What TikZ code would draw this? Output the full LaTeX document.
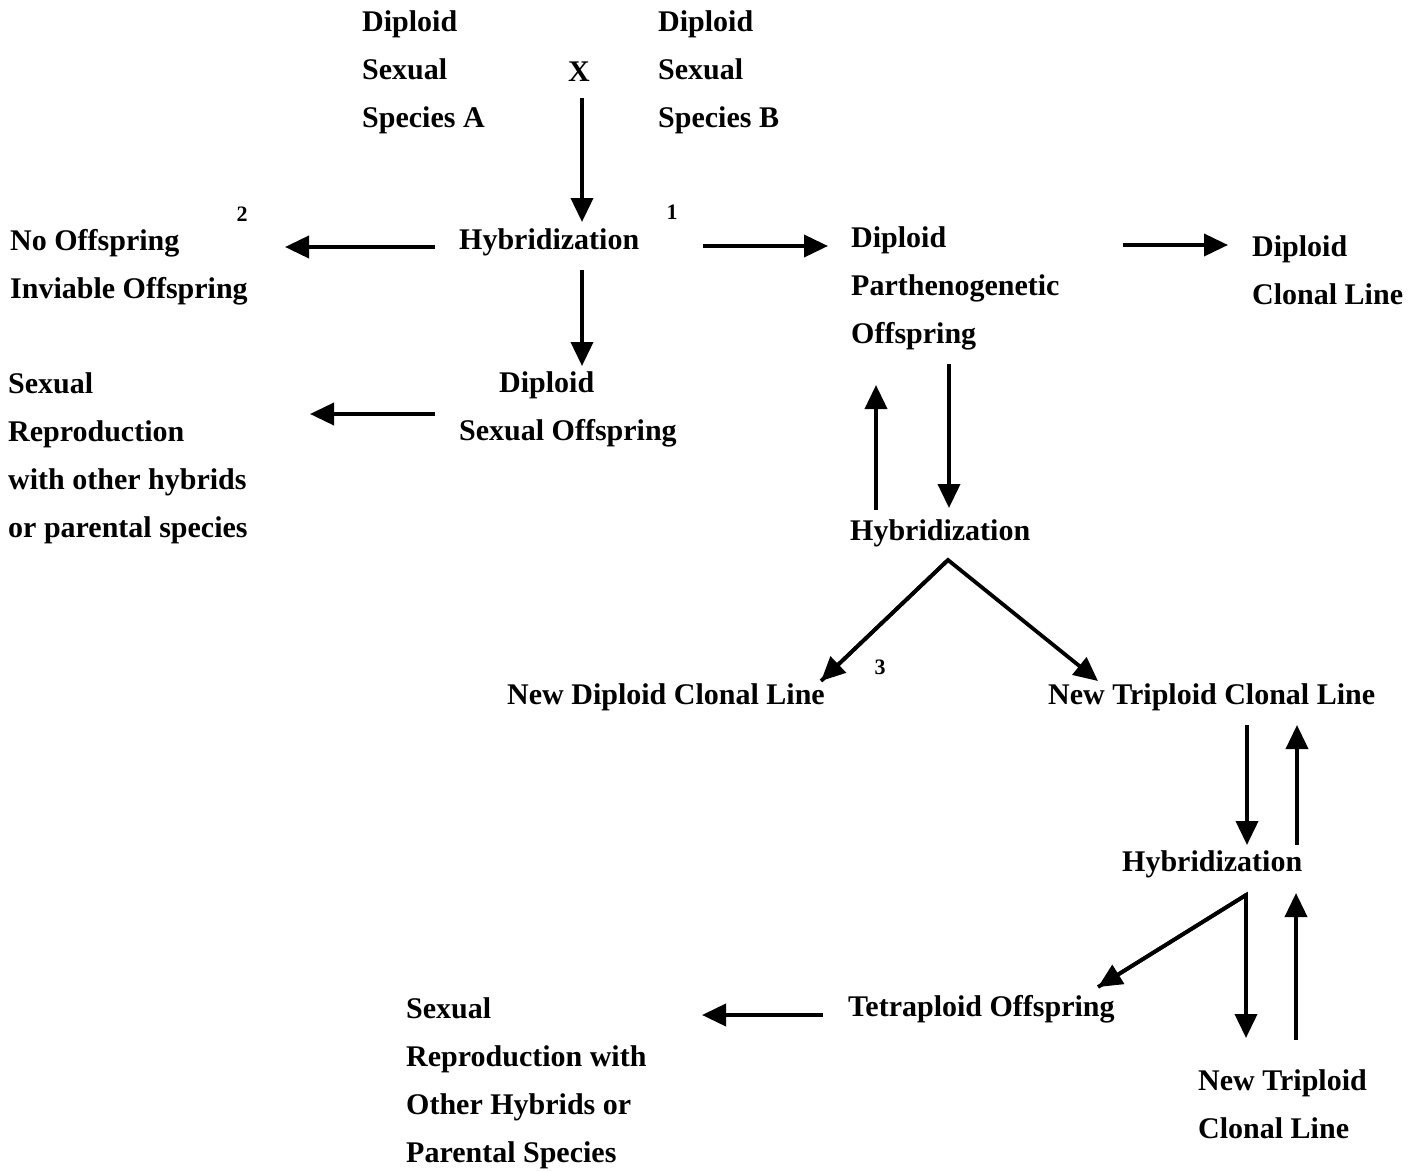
\documentclass[tikz,border=0pt]{standalone}
\usepackage{fontspec}
\setmainfont{Liberation Serif}
\usetikzlibrary{arrows.meta}
\begin{document}
\begin{tikzpicture}[x=1pt,y=-1pt,
  lbl/.style={font=\bfseries\fontsize{30}{48}\selectfont, inner sep=0pt, align=left, anchor=west, yshift=-2pt},
  supnum/.style={font=\bfseries\fontsize{22}{24}\selectfont, inner sep=0pt},
  arr/.style={line width=3.8pt, -{Triangle[length=24pt,width=22pt]}}]
\useasboundingbox[fill=white] (0,0) rectangle (1424,1172);

% nodes
\node[lbl] (A) at (362,70) {Diploid\\Sexual\\Species A};
\node[lbl,anchor=center] (X) at (579,70) {X};
\node[lbl] (B) at (658,70) {Diploid\\Sexual\\Species B};
\node[lbl] (H1) at (459,240) {Hybridization};
\node[supnum] (s1) at (672,212) {1};
\node[lbl] (NO) at (10,265) {No Offspring\\Inviable Offspring};
\node[supnum] (s2) at (242,214) {2};
\node[lbl] (DPO) at (851,286) {Diploid\\Parthenogenetic\\Offspring};
\node[lbl] (DCL) at (1252,268) {Diploid\\Clonal Line};
\node[lbl] (DSO) at (459,407) {\hspace*{40pt}Diploid\\Sexual Offspring};
\node[lbl] (SR1) at (8,456) {Sexual\\Reproduction\\with other hybrids\\or parental species};
\node[lbl] (H2) at (850,531) {Hybridization};
\node[lbl] (NDCL) at (507,695) {New Diploid Clonal Line};
\node[supnum] (s3) at (880,667) {3};
\node[lbl] (NTCL) at (1048,695) {New Triploid Clonal Line};
\node[lbl] (H3) at (1122,862) {Hybridization};
\node[lbl] (TO) at (848,1007) {Tetraploid Offspring};
\node[lbl] (SR2) at (406,1081) {Sexual\\Reproduction with\\Other Hybrids or\\Parental Species};
\node[lbl] (NTCL2) at (1198,1102) {New Triploid\\Clonal Line};

% connector end points
\coordinate (xa) at (582,98);   \coordinate (xb) at (582,222);
\coordinate (la) at (435,247);  \coordinate (lb) at (285,247);
\coordinate (ra) at (703,246);  \coordinate (rb) at (828,246);
\coordinate (da) at (1123,245); \coordinate (db) at (1228,245);
\coordinate (ha) at (582,270);  \coordinate (hb) at (582,366);
\coordinate (sa) at (435,414);  \coordinate (sb) at (310,414);
\coordinate (pa) at (949,364);  \coordinate (pb) at (949,508);
\coordinate (qa) at (876,510);  \coordinate (qb) at (876,385);
\coordinate (apex) at (948,560);
\coordinate (nd) at (821,681);  \coordinate (nt) at (1098,681);
\coordinate (ta) at (1247,725); \coordinate (tb) at (1247,845);
\coordinate (ua) at (1297,845); \coordinate (ub) at (1297,725);
\coordinate (apex2) at (1246,895);
\coordinate (to) at (1098,987); \coordinate (vb) at (1246,1038);
\coordinate (wa) at (1296,1040); \coordinate (wb) at (1296,893);
\coordinate (ya) at (823,1015); \coordinate (yb) at (702,1015);

% connectors
\draw[arr] (xa) -- (xb);
\draw[arr] (la) -- (lb);
\draw[arr] (ra) -- (rb);
\draw[arr] (da) -- (db);
\draw[arr] (ha) -- (hb);
\draw[arr] (sa) -- (sb);
\draw[arr] (pa) -- (pb);
\draw[arr] (qa) -- (qb);
\draw[arr,line join=miter] (nd) -- (apex) -- (nt);
\draw[arr] (apex) -- (nd);
\draw[arr] (ta) -- (tb);
\draw[arr] (ua) -- (ub);
\draw[arr,line join=miter] (to) -- (apex2) -- (vb);
\draw[arr] (apex2) -- (to);
\draw[arr] (wa) -- (wb);
\draw[arr] (ya) -- (yb);
\end{tikzpicture}
\end{document}
